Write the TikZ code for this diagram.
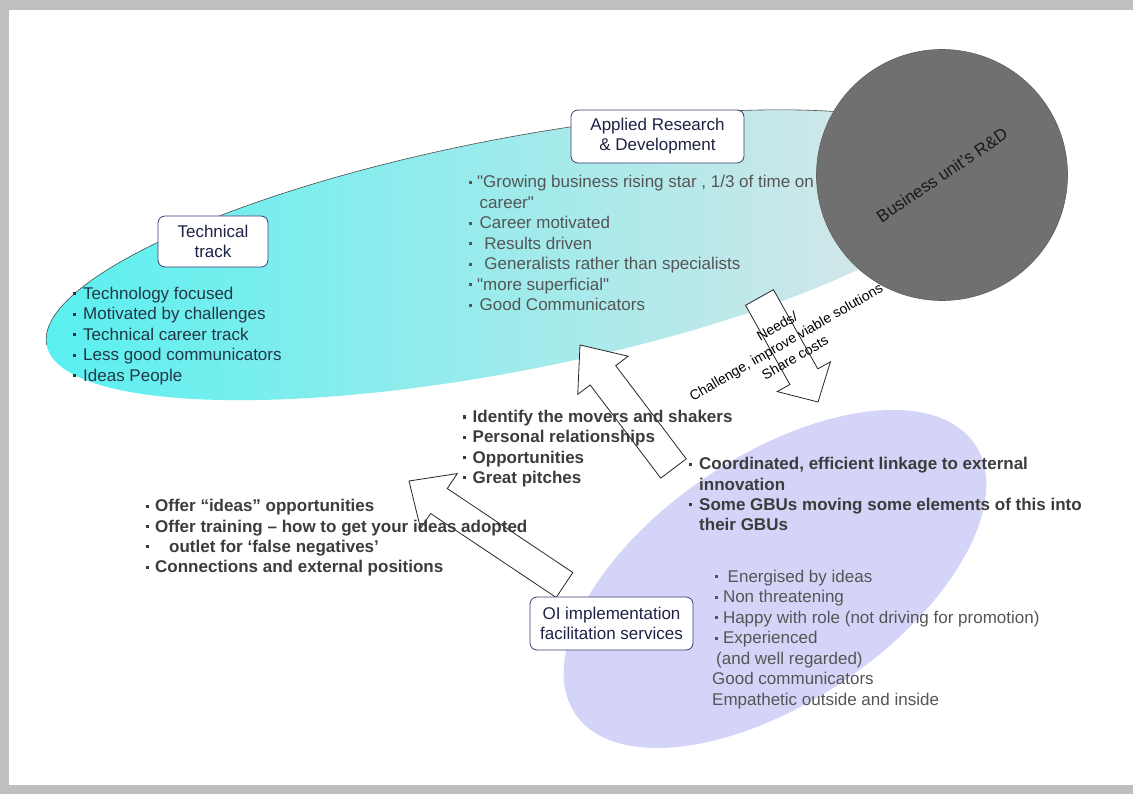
\documentclass[tikz,border=0pt]{standalone}
\usepackage{fontspec}
\setmainfont{Liberation Sans}[Ligatures=TeXOff]
\usetikzlibrary{calc}

\definecolor{pagegrey}{RGB}{191,191,191}
\definecolor{tealL}{RGB}{88,240,240}
\definecolor{tealM}{RGB}{160,237,238}
\definecolor{tealR}{RGB}{228,229,231}
\definecolor{lavender}{RGB}{212,212,248}
\definecolor{unitgrey}{RGB}{112,112,112}
\definecolor{techtext}{RGB}{35,55,70}
\definecolor{greytext}{RGB}{85,85,85}
\definecolor{boldtext}{RGB}{60,60,60}
\definecolor{boxtext}{RGB}{30,35,70}
\definecolor{boxline}{RGB}{60,60,120}

% small square bullet, set in a box of the given width
\newcommand\bul[1][10pt]{\makebox[#1][l]{\rule[4pt]{3.2pt}{3.2pt}}}

% block arrow: #1 name, #2 tail, #3 tip, #4 half shaft width, #5 half head width, #6 head length
\newcommand\blockarrow[6]{%
  \coordinate (#1-base) at ($(#3)!#6!(#2)$);
  \draw[blockarr] ($(#2)!#4!90:(#3)$) -- ($(#1-base)!#4!90:(#3)$)
    -- ($(#1-base)!#5!90:(#3)$) -- (#3) -- ($(#1-base)!#5!-90:(#3)$)
    -- ($(#1-base)!#4!-90:(#3)$) -- ($(#2)!#4!-90:(#3)$) -- cycle;
}

\tikzset{
  rbox/.style={draw=boxline, line width=0.8pt, fill=white, rounded corners=7pt,
    align=center, text=boxtext, inner sep=0pt, font=\fontsize{17}{20}\selectfont},
  itemlist/.style={anchor=north west, inner sep=0pt, align=left},
  plainlist/.style={itemlist, font=\fontsize{17}{20.5}\selectfont},
  boldlist/.style={itemlist, font=\fontsize{17}{20.3}\selectfont\bfseries, text=boldtext},
  blockarr/.style={draw=black!85, line width=0.8pt, fill=white, line join=miter},
}

\begin{document}
\begin{tikzpicture}[x=1pt,y=-1pt]
% page
\fill[pagegrey] (0,0) rectangle (1133,794);
\fill[white] (9,10) rectangle (1133,785);

% technical track / applied research field
\begin{scope}[shift={(510,255)}, rotate=11]
  \shade[left color=tealL, middle color=tealM, right color=tealR] (0,0) ellipse[x radius=472, y radius=116];
  \draw[gray!60!black, line width=0.6pt] (-472,0) arc[start angle=180, end angle=360, x radius=472, y radius=116];
\end{scope}

% facilitation field
\begin{scope}[shift={(775,579)}, rotate=34]
  \fill[lavender] (0,0) ellipse[x radius=241, y radius=123];
\end{scope}

% block arrows
\coordinate (needsTail) at (759.5,297.5);
\coordinate (needsTip) at (818,402);
\coordinate (upTail) at (673.5,468.5);
\coordinate (upTip) at (580,345);
\coordinate (leftTail) at (564.5,585);
\coordinate (leftTip) at (409,481);
\blockarrow{needs}{needsTail}{needsTip}{16pt}{30.5pt}{29pt}
\blockarrow{up}{upTail}{upTip}{16pt}{31.6pt}{38pt}
\blockarrow{left}{leftTail}{leftTip}{15pt}{33pt}{36pt}

% labelled boxes
\node[rbox, minimum width=110pt, minimum height=51pt] (tech) at (213,241.5) {Technical\\track};
\node[rbox, minimum width=173pt, minimum height=53pt] (ard) at (657.5,136.5) {Applied Research\\\& Development};
\node[rbox, minimum width=163pt, minimum height=53pt] (oi) at (611.5,623.5) {OI implementation\\facilitation services};

% item lists
\node[plainlist, text=techtext] (techlist) at (73,286.7)
  {\bul Technology focused\\\bul Motivated by challenges\\\bul Technical career track\\\bul Less good communicators\\\bul Ideas People};

\node[plainlist, text=greytext] (ardlist) at (469,175.4)
  {\bul[8pt]"Growing business rising star , 1/3 of time on\\\hspace*{10.5pt}career"\\\bul[10.5pt]Career motivated\\\bul[10.5pt]\ Results driven\\\bul[10.5pt]\ Generalists rather than specialists\\\bul[8pt]"more superficial"\\\bul[10.5pt]Good Communicators};

\node[boldlist] (pitchlist) at (463,410)
  {\bul[9.5pt]Identify the movers and shakers\\\bul[9.5pt]Personal relationships\\\bul[9.5pt]Opportunities\\\bul[9.5pt]Great pitches};

\node[boldlist] (offerlist) at (146,499.3)
  {\bul[9pt]Offer “ideas” opportunities\\\bul[9pt]Offer training – how to get your ideas adopted\\\bul[23pt]outlet for ‘false negatives’\\\bul[9pt]Connections and external positions};

\node[boldlist] (gbulist) at (689,457.3)
  {\bul[10pt]Coordinated, efficient linkage to external\\\hspace*{10pt}innovation\\\bul[10pt]Some GBUs moving some elements of this into\\\hspace*{10pt}their GBUs};

\node[plainlist, text=greytext] (rolelist) at (712,569.7)
  {\hspace*{2.3pt}\bul[8.5pt]\ Energised by ideas\\\hspace*{2.3pt}\bul[8.5pt]Non threatening\\\hspace*{2.3pt}\bul[8.5pt]Happy with role (not driving for promotion)\\\hspace*{2.3pt}\bul[8.5pt]Experienced\\\hspace*{4pt}(and well regarded)\\Good communicators\\Empathetic outside and inside};

% business unit
\node[circle, fill=unitgrey, draw=unitgrey!85!black, line width=0.6pt, minimum size=251pt,
  inner sep=0pt, rotate=34, font=\fontsize{17}{20}\selectfont, text=black!90] (bu) at (942,175) {Business unit’s R\&D};

% label on the downward arrow
\node[rotate=30, align=center, inner sep=0pt, font=\fontsize{14}{18}\selectfont] (needsLabel) at (786,342)
  {Needs/\\Challenge, improve viable solutions\\Share costs};
\end{tikzpicture}
\end{document}
